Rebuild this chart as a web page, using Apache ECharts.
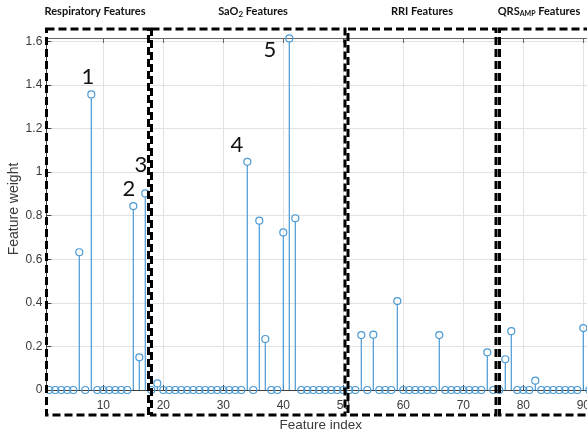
<!DOCTYPE html>
<html><head><meta charset="utf-8">
<script src="https://cdn.jsdelivr.net/npm/echarts@6/dist/echarts.min.js"></script>
<style>html,body{margin:0;padding:0;background:#fff}#c{width:587px;height:434px}</style>
</head><body><div id="c"></div>
<script>
// Feature index (x) and feature weight (y)
const featureIndex = [1,2,3,4,5,6,7,8,9,10,11,12,13,14,15,16,17,18,19,20,
  21,22,23,24,25,26,27,28,29,30,31,32,33,34,35,36,37,38,39,40,
  41,42,43,44,45,46,47,48,49,50,51,52,53,54,55,56,57,58,59,60,
  61,62,63,64,65,66,67,68,69,70,71,72,73,74,75,76,77,78,79,80,
  81,82,83,84,85,86,87,88,89,90,91];
const featureWeight = [0,0,0,0,0,0.632,0,1.356,0,0,0,0,0,0,0.844,0.150,0.902,0,0.030,0,
  0,0,0,0,0,0,0,0,0,0,0,0,0,1.047,0,0.777,0.234,0,0,0.723,
  1.613,0.788,0,0,0,0,0,0,0,0,0,0,0.252,0,0.254,0,0,0,0.408,0,
  0,0,0,0,0,0.252,0,0,0,0,0,0,0,0.173,0,0,0.141,0.270,0,0,
  0,0.043,0,0,0,0,0,0,0,0.284,0];
const xTickValues = [10,20,30,40,50,60,70,80,90];
const yTickValues = [0,0.2,0.4,0.6,0.8,1,1.2,1.4,1.6];
const annotationLabels = ['1','2','3','4','5'];

const stemColor = '#4a9ad4';
const axisColor = '#404040';
const chart = echarts.init(document.getElementById('c'), null, {renderer:'canvas'});

const points = featureIndex.map((x,i)=>[x, featureWeight[i]]);

const titleFont = {fontFamily:'Lato', fontWeight:'bold', fontSize:11, fill:'#111'};
const boxStyle = {fill:'none', stroke:'#000', lineWidth:3, lineDash:[8,4]};
const annPos = [[88,77],[129,189],[141,165],[237,145],[270,50]];

const graphics = [];
graphics.push({type:'text', x:95, y:11, z:100, style:Object.assign({text:'Respiratory Features', align:'center', verticalAlign:'middle'}, titleFont)});
graphics.push({type:'text', x:253, y:11, z:100, style:{text:'{a|SaO}{s|2}{a| Features}', align:'center', verticalAlign:'middle',
  rich:{a:{fontFamily:'Lato', fontWeight:'bold', fontSize:11, fill:'#111'}, s:{fontFamily:'Lato', fontWeight:'bold', fontSize:8, fill:'#111', padding:[6,0,0,0]}}}});
graphics.push({type:'text', x:422, y:11, z:100, style:Object.assign({text:'RRI Features', align:'center', verticalAlign:'middle'}, titleFont)});
graphics.push({type:'text', x:539, y:11, z:100, style:{text:'{a|QRS}{s|AMP}{a| Features}', align:'center', verticalAlign:'middle',
  rich:{a:{fontFamily:'Lato', fontWeight:'bold', fontSize:11, fill:'#111'}, s:{fontFamily:'Lato', fontWeight:'bold', fontSize:7, fill:'#111', padding:[6,0,0,0]}}}});
graphics.push({type:'rect', z:100, shape:{x:46.5, y:29, width:102, height:386}, style:boxStyle});
graphics.push({type:'rect', z:100, shape:{x:151.5, y:29, width:193.5, height:386}, style:boxStyle});
graphics.push({type:'rect', z:100, shape:{x:348, y:29, width:148, height:386}, style:boxStyle});
graphics.push({type:'rect', z:100, shape:{x:499.5, y:29, width:150, height:386}, style:boxStyle});
annotationLabels.forEach((t,i)=>{
  graphics.push({type:'text', x:annPos[i][0], y:annPos[i][1], z:100, style:{text:t, align:'center', verticalAlign:'middle', fontFamily:'Lato', fontSize:22, fill:'#111'}});
});
// y axis title
graphics.push({type:'text', x:14, y:209, rotation:Math.PI/2, z:100, style:{text:'Feature weight', align:'center', verticalAlign:'middle', fontFamily:'Liberation Sans', fontSize:14, fill:'#3a3a3a'}});

const option = {
  animation:false,
  backgroundColor:'#fff',
  grid:{left:46.3, top:38, bottom:44, right:-8.3, containLabel:false, outerBoundsMode:'none'},
  xAxis:[{
    type:'value', min:0.5, max:92, position:'bottom',
    axisLine:{show:true, onZero:false, lineStyle:{color:axisColor, width:1}},
    axisTick:{show:true, inside:true, length:5, customValues:xTickValues, lineStyle:{color:axisColor}},
    axisLabel:{customValues:xTickValues, color:'#3a3a3a', fontSize:12, fontFamily:'Liberation Sans', margin:10},
    splitLine:{show:true, lineStyle:{color:'#e2e2e2', width:1}},
    name:'Feature index', nameLocation:'middle', nameGap:28,
    nameTextStyle:{color:'#3a3a3a', fontSize:13.5, fontFamily:'Liberation Sans'}
  },{
    type:'value', min:0.5, max:92, position:'top',
    axisLine:{show:true, onZero:false, lineStyle:{color:'#666', width:1}},
    axisTick:{show:true, inside:true, length:5, customValues:xTickValues, lineStyle:{color:'#666'}},
    axisLabel:{show:false}, splitLine:{show:false}
  }],
  yAxis:{
    type:'value', min:0, max:1.615,
    axisLine:{show:true, onZero:false, lineStyle:{color:axisColor, width:1}},
    axisTick:{show:true, inside:true, length:5, customValues:yTickValues, lineStyle:{color:axisColor}},
    axisLabel:{customValues:yTickValues, color:'#3a3a3a', fontSize:12, fontFamily:'Liberation Sans', margin:4},
    splitLine:{show:true, lineStyle:{color:'#e2e2e2', width:1}}
  },
  series:[{
    type:'custom',
    xAxisIndex:0, yAxisIndex:0,
    data:points,
    clip:false,
    renderItem:function(params, api){
      const x = api.value(0), v = api.value(1);
      const p0 = api.coord([x, 0]);
      const p1 = api.coord([x, v]);
      const children = [];
      if (v > 0) {
        children.push({type:'line', shape:{x1:p0[0], y1:p0[1], x2:p1[0], y2:p1[1]+3.5}, style:{stroke:stemColor, lineWidth:1.2}});
      }
      children.push({type:'circle', shape:{cx:p1[0], cy:p1[1], r:3.5}, style:{fill:'none', stroke:stemColor, lineWidth:1.2}});
      return {type:'group', children:children};
    }
  }],
  graphic:graphics
};
chart.setOption(option);
</script></body></html>
